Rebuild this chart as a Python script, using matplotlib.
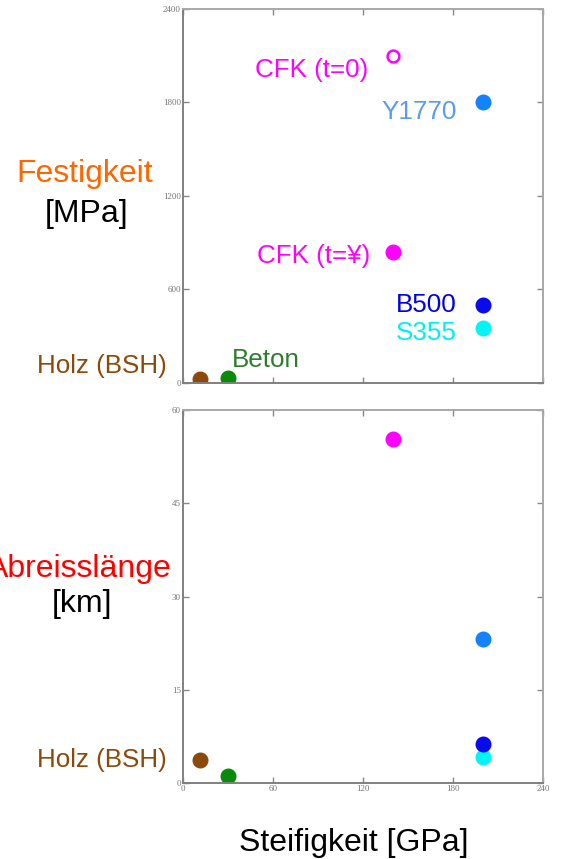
import matplotlib
matplotlib.use("Agg")
import matplotlib.pyplot as plt

# ---- data ----
materials = ["Holz (BSH)", "Beton", "S355", "B500", "Y1770", "CFK (t=¥)", "CFK (t=0)"]
steifigkeit = [11, 30, 200, 200, 200, 140, 140]          # GPa
festigkeit = [25, 35, 355, 500, 1800, 840, 2100]          # MPa
abreisslaenge = [3.7, 1.1, 4.2, 6.2, 23.2, 55.3, None]    # km
colors = ["#8B4A0C", "#0A8A0A", "#00F5F5", "#0A0AEE", "#1482FA", "#FF00FF", "#FF00FF"]
filled = [True, True, True, True, True, True, False]
text_colors = ["#8B4A0C", "#2E7D2E", "#00F0F0", "#0000EE", "#5A9BEF", "#FF00FF", "#FF00FF"]

x_ticks = [0, 60, 120, 180, 240]
y1_ticks = [0, 600, 1200, 1800, 2400]
y2_ticks = [0, 15, 30, 45, 60]

W, H = 562, 859
fig = plt.figure(figsize=(W / 100, H / 100), dpi=100)

def px(x, y):
    return x / W, 1 - y / H

ax1 = fig.add_axes([183 / W, 1 - 383 / H, 360 / W, 374 / H])
ax2 = fig.add_axes([183 / W, 1 - 783 / H, 360 / W, 373 / H])

tick_font = dict(family="Liberation Serif", size=6.5)
for ax, yt in ((ax1, y1_ticks), (ax2, y2_ticks)):
    ax.set_xlim(x_ticks[0], x_ticks[-1])
    ax.set_ylim(yt[0], yt[-1])
    ax.set_xticks(x_ticks)
    ax.set_yticks(yt)
    ax.tick_params(direction="in", length=4, width=1, color="#888888",
                   top=True, right=True, labelcolor="#777777", pad=1.5)
    ax.set_yticklabels([str(v) for v in yt], fontdict=tick_font)
    for name, s in ax.spines.items():
        s.set_color("#808080" if name in ("left", "bottom") else "#A8A8A8")
        s.set_linewidth(1.4)
ax1.set_xticklabels([])
ax2.set_xticklabels([str(v) for v in x_ticks], fontdict=tick_font)

ms = 10.5
for E, f, a, c, fl in zip(steifigkeit, festigkeit, abreisslaenge, colors, filled):
    if fl:
        ax1.plot(E, f, "o", ms=ms, color=c, mec=c, zorder=1)
    else:
        ax1.plot(E, f, "o", ms=8.5, mfc="none", mec=c, mew=1.8, zorder=1)
    if a is not None:
        ax2.plot(E, a, "o", ms=ms, color=c, mec=c, zorder=1)

# ---- labels ----
fs = 18.7
lab = dict(family="Liberation Sans", size=fs)
label_pos = {
    "CFK (t=0)": (368, 77, "right"),
    "Y1770": (457, 119, "right"),
    "CFK (t=¥)": (370, 263, "right"),
    "B500": (457, 312, "right"),
    "S355": (457, 340, "right"),
    "Beton": (232, 367, "left"),
    "Holz (BSH)": (167, 373, "right"),
}
for m, tc in zip(materials, text_colors):
    x, y, ha = label_pos[m]
    fig.text(*px(x, y), m, color=tc, ha=ha, va="baseline", **lab)
fig.text(*px(167, 767), "Holz (BSH)", color=text_colors[0], ha="right", va="baseline", **lab)

big = dict(family="Liberation Sans", size=23)
fig.text(*px(85, 182), "Festigkeit", color="#FF6600", ha="center", va="baseline", **big)
fig.text(*px(87, 222), "[MPa]", color="black", ha="center", va="baseline", **big)
fig.text(*px(79, 577), "Abreisslänge", color="#FF0000", ha="center", va="baseline", **big)
fig.text(*px(82, 612), "[km]", color="black", ha="center", va="baseline", **big)
fig.text(*px(354, 851), "Steifigkeit [GPa]", color="black", ha="center", va="baseline", **big)

fig.savefig("out.png", dpi=100)
